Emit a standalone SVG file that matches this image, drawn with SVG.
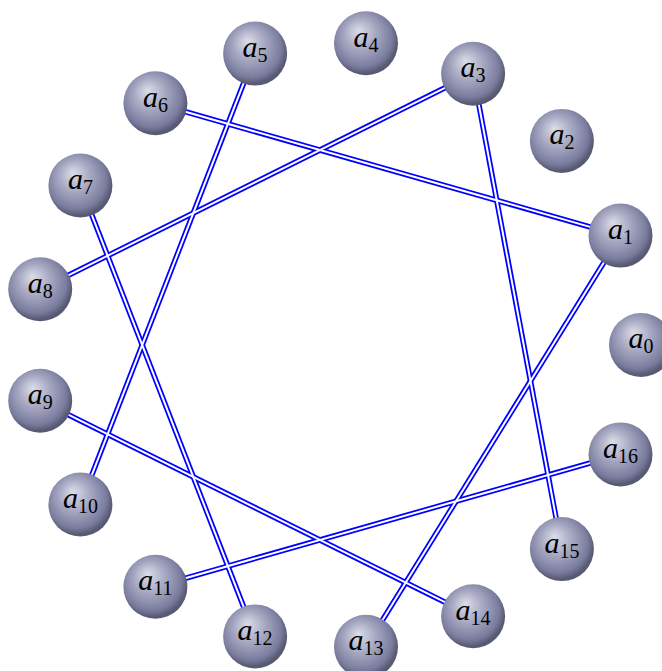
<svg xmlns="http://www.w3.org/2000/svg" width="662" height="671" viewBox="0 0 662 671">
<defs>
<radialGradient id="ball" cx="0.45" cy="0.42" r="0.55" fx="0.38" fy="0.3">
<stop offset="0" stop-color="#dcdde8"/>
<stop offset="0.45" stop-color="#a6a8c2"/>
<stop offset="0.85" stop-color="#7a7c9e"/>
<stop offset="1" stop-color="#585972"/>
</radialGradient>
</defs>
<style>
.eo{stroke:#0000ff;stroke-width:5.5;fill:none}
.ei{stroke:#ffffff;stroke-width:2;fill:none}
.n circle{fill:url(#ball)}
.n text{font-family:"Liberation Serif",serif;fill:#000;text-anchor:middle}
.v{font-style:italic;font-size:30px}
.s{font-size:20px;font-style:normal}
</style>
<g id="connectors">
<g class="eo">
<line x1="620.5" y1="235.6" x2="155.4" y2="103.2"/>
<line x1="620.5" y1="235.6" x2="366.0" y2="646.7"/>
<line x1="473.1" y1="73.8" x2="40.2" y2="289.3"/>
<line x1="473.1" y1="73.8" x2="561.9" y2="549.1"/>
<line x1="255.1" y1="53.6" x2="80.4" y2="504.5"/>
<line x1="80.4" y1="185.5" x2="255.1" y2="636.4"/>
<line x1="40.2" y1="400.7" x2="473.1" y2="616.2"/>
<line x1="155.4" y1="586.8" x2="620.5" y2="454.4"/>
</g>
<g class="ei">
<line x1="620.5" y1="235.6" x2="155.4" y2="103.2"/>
<line x1="620.5" y1="235.6" x2="366.0" y2="646.7"/>
<line x1="473.1" y1="73.8" x2="40.2" y2="289.3"/>
<line x1="473.1" y1="73.8" x2="561.9" y2="549.1"/>
<line x1="255.1" y1="53.6" x2="80.4" y2="504.5"/>
<line x1="80.4" y1="185.5" x2="255.1" y2="636.4"/>
<line x1="40.2" y1="400.7" x2="473.1" y2="616.2"/>
<line x1="155.4" y1="586.8" x2="620.5" y2="454.4"/>
</g>
</g>
<g id="a0" class="n"><circle cx="641" cy="345" r="32"/><text x="641" y="348"><tspan class="v">a</tspan><tspan class="s" dy="5">0</tspan></text></g>
<g id="a1" class="n"><circle cx="620.5" cy="235.6" r="32"/><text x="620.5" y="239"><tspan class="v">a</tspan><tspan class="s" dy="5">1</tspan></text></g>
<g id="a2" class="n"><circle cx="561.9" cy="140.9" r="32"/><text x="561.9" y="144"><tspan class="v">a</tspan><tspan class="s" dy="5">2</tspan></text></g>
<g id="a3" class="n"><circle cx="473.1" cy="73.8" r="32"/><text x="473.1" y="77"><tspan class="v">a</tspan><tspan class="s" dy="5">3</tspan></text></g>
<g id="a4" class="n"><circle cx="366" cy="43.3" r="32"/><text x="366" y="47"><tspan class="v">a</tspan><tspan class="s" dy="5">4</tspan></text></g>
<g id="a5" class="n"><circle cx="255.1" cy="53.6" r="32"/><text x="255.1" y="57"><tspan class="v">a</tspan><tspan class="s" dy="5">5</tspan></text></g>
<g id="a6" class="n"><circle cx="155.4" cy="103.2" r="32"/><text x="155.4" y="107"><tspan class="v">a</tspan><tspan class="s" dy="5">6</tspan></text></g>
<g id="a7" class="n"><circle cx="80.4" cy="185.5" r="32"/><text x="80.4" y="189"><tspan class="v">a</tspan><tspan class="s" dy="5">7</tspan></text></g>
<g id="a8" class="n"><circle cx="40.2" cy="289.3" r="32"/><text x="40.2" y="293"><tspan class="v">a</tspan><tspan class="s" dy="5">8</tspan></text></g>
<g id="a9" class="n"><circle cx="40.2" cy="400.7" r="32"/><text x="40.2" y="404"><tspan class="v">a</tspan><tspan class="s" dy="5">9</tspan></text></g>
<g id="a10" class="n"><circle cx="80.4" cy="504.5" r="32"/><text x="80.4" y="508"><tspan class="v">a</tspan><tspan class="s" dy="5">10</tspan></text></g>
<g id="a11" class="n"><circle cx="155.4" cy="586.8" r="32"/><text x="155.4" y="590"><tspan class="v">a</tspan><tspan class="s" dy="5">11</tspan></text></g>
<g id="a12" class="n"><circle cx="255.1" cy="636.4" r="32"/><text x="255.1" y="640"><tspan class="v">a</tspan><tspan class="s" dy="5">12</tspan></text></g>
<g id="a13" class="n"><circle cx="366" cy="646.7" r="32"/><text x="366" y="650"><tspan class="v">a</tspan><tspan class="s" dy="5">13</tspan></text></g>
<g id="a14" class="n"><circle cx="473.1" cy="616.2" r="32"/><text x="473.1" y="620"><tspan class="v">a</tspan><tspan class="s" dy="5">14</tspan></text></g>
<g id="a15" class="n"><circle cx="561.9" cy="549.1" r="32"/><text x="561.9" y="553"><tspan class="v">a</tspan><tspan class="s" dy="5">15</tspan></text></g>
<g id="a16" class="n"><circle cx="620.5" cy="454.4" r="32"/><text x="620.5" y="458"><tspan class="v">a</tspan><tspan class="s" dy="5">16</tspan></text></g>
</svg>
